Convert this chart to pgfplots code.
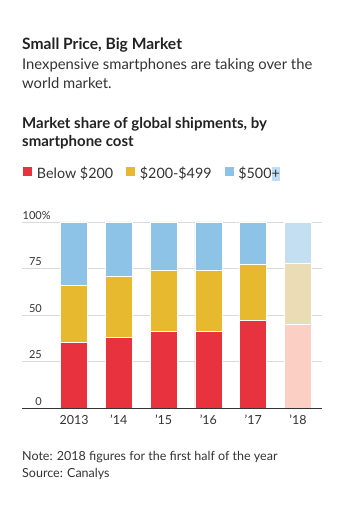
\documentclass[border=0pt]{standalone}
\usepackage{fontspec}
\setmainfont{Lato}
\usepackage{pgfplots}
\pgfplotsset{compat=1.18}
\definecolor{cred}{HTML}{E8333E}
\definecolor{cyel}{HTML}{E6B92F}
\definecolor{cblu}{HTML}{8EC3E8}
\definecolor{fred}{HTML}{FCCFC4}
\definecolor{fyel}{HTML}{EADDB6}
\definecolor{fblu}{HTML}{C4DEF2}
\definecolor{ctxt}{HTML}{333333}
\definecolor{cttl}{HTML}{222222}
\definecolor{cgrid}{HTML}{DADADA}
\definecolor{chl}{HTML}{BFDDF7}
\pgfplotsset{sqlegend/.style={legend image code/.code={\fill[##1] (2pt,-3pt) rectangle (12pt,7pt);}}}
\begin{document}
\begin{tikzpicture}
\useasboundingbox (0pt,0pt) rectangle (351pt,508pt);
\node[anchor=base west, inner sep=0, text=cttl, font=\fontsize{15.6}{19}\selectfont\bfseries] at (22pt,458pt) {Small Price, Big Market};
\node[anchor=base west, inner sep=0, text=ctxt, font=\fontsize{14.8}{19}\selectfont] at (22pt,438pt) {Inexpensive smartphones are taking over the};
\node[anchor=base west, inner sep=0, text=ctxt, font=\fontsize{14.8}{19}\selectfont] at (22pt,419pt) {world market.};
\node[anchor=base west, inner sep=0, text=cttl, font=\fontsize{15}{18}\selectfont\bfseries] at (22pt,379pt) {Market share of global shipments, by};
\node[anchor=base west, inner sep=0, text=cttl, font=\fontsize{15}{18}\selectfont\bfseries] at (22pt,361pt) {smartphone cost};
\node[anchor=base west, inner sep=0, text=ctxt, font=\fontsize{12.5}{16}\selectfont] at (22pt,47pt) {Note: 2018 figures for the first half of the year};
\node[anchor=base west, inner sep=0, text=ctxt, font=\fontsize{12.5}{16}\selectfont] at (22pt,30pt) {Source: Canalys};

\begin{axis}[
  at={(22pt,100pt)}, anchor=south west,
  width=300pt, height=186pt, scale only axis,
  xmin=-1.161, xmax=5.536, ymin=0, ymax=100,
  clip=false,
  axis line style={draw=none},
  major tick length=0pt,
  xtick=\empty,
  ytick={0,25,50,75,100},
  yticklabels={0,25,50,75,100\rlap{\%}},
  yticklabel style={anchor=base east, inner sep=0pt, xshift=20pt, yshift=2.5pt, text=ctxt, font=\fontsize{11}{13}\selectfont},
  ymajorgrids, grid style={draw=cgrid, line width=0.6pt},
  ybar stacked, bar width=27pt,
  legend columns=3,
  legend style={draw=none, fill=none, inner sep=0pt, at={(axis description cs:0,1)}, anchor=south west, yshift=40pt,
    font=\fontsize{14.3}{16}\selectfont, text=ctxt,
    /tikz/every odd column/.append style={column sep=2pt},
    /tikz/every even column/.append style={column sep=10pt}},
  sqlegend,
]
\addplot[fill=cred, draw=white, line width=0.8pt] coordinates {(0,35) (1,38) (2,41) (3,41) (4,47)};
\addlegendentry{Below \$200}
\addplot[fill=cyel, draw=white, line width=0.8pt] coordinates {(0,31) (1,33) (2,33) (3,33) (4,30)};
\addlegendentry{\$200-\$499}
\addplot[fill=cblu, draw=white, line width=0.8pt] coordinates {(0,34) (1,29) (2,26) (3,26) (4,23)};
\addlegendentry{\$500\colorbox{chl}{\hspace{-3pt}+\hspace{-3pt}}}
\end{axis}

\begin{axis}[
  at={(22pt,100pt)}, anchor=south west,
  width=300pt, height=186pt, scale only axis,
  xmin=-1.161, xmax=5.536, ymin=0, ymax=100,
  clip=false, axis on top,
  axis y line=none, axis x line=bottom,
  x axis line style={-, draw=ctxt, line width=0.8pt},
  major tick length=0pt,
  xtick={0,1,2,3,4,5},
  xticklabels={2013,’14,’15,’16,’17,’18},
  xticklabel style={anchor=base, inner sep=0pt, yshift=-17pt, text=ctxt, font=\fontsize{12.5}{15}\selectfont},
  ybar stacked, bar width=27pt,
]
\addplot[fill=fred, draw=white, line width=0.8pt] coordinates {(5,45)};
\addplot[fill=fyel, draw=white, line width=0.8pt] coordinates {(5,33)};
\addplot[fill=fblu, draw=white, line width=0.8pt] coordinates {(5,22)};
\end{axis}
\end{tikzpicture}
\end{document}
